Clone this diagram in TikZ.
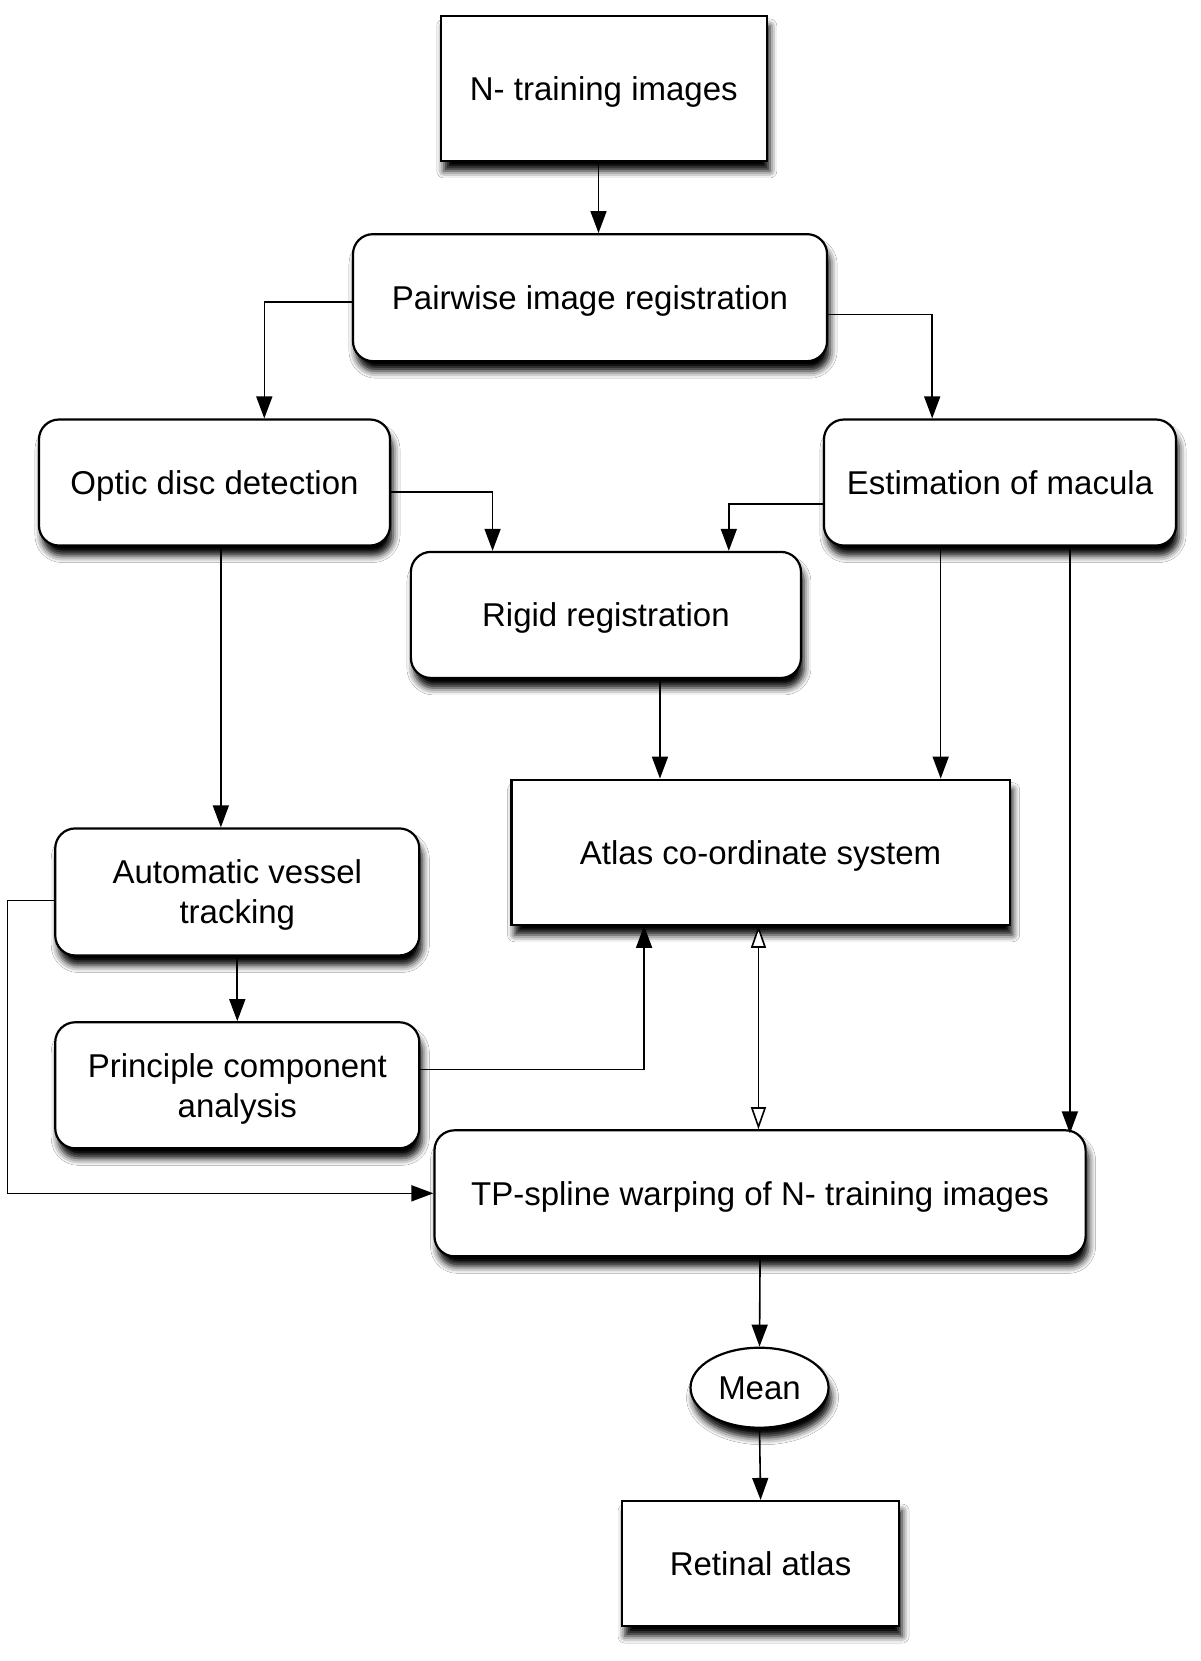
\documentclass[tikz,border=0pt]{standalone}
\usepackage{fontspec}
\setmainfont{Liberation Sans}
\usetikzlibrary{arrows.meta,calc,shapes.geometric,shadows.blur}
\begin{document}
\begin{tikzpicture}[x=1.0591pt,y=-1.0591pt,
  base/.style={draw=black,line width=2.2pt,fill=white,inner sep=0pt,align=center,
    text depth=0pt,
    font=\fontsize{33}{40}\selectfont,
    blur shadow={shadow xshift=3pt,shadow yshift=-10pt,shadow blur radius=7pt,shadow opacity=100}},
  sq/.style={base,rectangle},
  rnd/.style={base,rectangle,rounded corners=20pt},
  ell/.style={base,ellipse},
  arr/.style={line width=1.6pt,-{Triangle[length=22pt,width=16pt]}},
  darr/.style={line width=1.6pt,{Triangle[open,length=22pt,width=15pt,fill=white]}-{Triangle[open,length=22pt,width=15pt,fill=white]}}
]
\useasboundingbox[fill=white] (0,0) rectangle (1133,1568);

\node[sq,minimum width=326pt,minimum height=145pt] (N) at (570,83.5) {N- training images};
\node[rnd,minimum width=474pt,minimum height=127pt] (pw) at (557,281) {Pairwise image registration};
\node[rnd,minimum width=351pt,minimum height=126pt] (od) at (202.5,455.5) {Optic disc detection};
\node[rnd,minimum width=352pt,minimum height=126pt] (em) at (944,455.5) {Estimation of macula};
\node[rnd,minimum width=390pt,minimum height=126pt] (rr) at (572,580.5) {Rigid registration};
\node[sq,minimum width=498pt,minimum height=145pt] (at) at (718,804.5) {Atlas co-ordinate system};
\node[rnd,minimum width=364pt,minimum height=127pt] (avt) at (224,842) {Automatic vessel\\tracking};
\node[rnd,minimum width=364pt,minimum height=126pt] (pca) at (224,1024.5) {Principle component\\analysis};
\node[rnd,minimum width=651pt,minimum height=126pt] (tp) at (717.5,1126.5) {TP-spline warping of N- training images};
\node[ell,minimum width=138pt,minimum height=80pt] (mean) at (717,1310) {Mean};
\node[sq,minimum width=277pt,minimum height=125pt] (ra) at (718,1476) {Retinal atlas};

% helper points
\coordinate (c1) at ($(N.south)+(-5,0)$);
\coordinate (c6) at ($(od.south)+(6,0)$);
\coordinate (c7) at ($(rr.south)+(51,0)$);
\coordinate (c8) at ($(em.south)+(-56,0)$);
\coordinate (c9) at ($(em.south)+(66,0)$);
\coordinate (c13) at ($(at.south)+(-2,0)$);

\draw[arr] (c1) -- (c1 |- pw.north);
\draw[arr] ($(pw.west)+(0,4)$) -| ($(od.north)+(47,0)$);
\draw[arr] ($(pw.east)+(0,16)$) -| ($(em.north)+(-64,0)$);
\draw[arr] ($(od.east)+(0,9)$) -| ($(rr.north)+(-107,0)$);
\draw[arr] ($(em.west)+(0,20)$) -| ($(rr.north)+(116,0)$);
\draw[arr] (c6) -- (c6 |- avt.north);
\draw[arr] (c7) -- (c7 |- at.north);
\draw[arr] (c8) -- (c8 |- at.north);
\draw[arr] (c9) -- ($(c9 |- tp.north)+(0,4)$);
\draw[arr] ($(avt.west)+(0,8)$) -- ++(-44,0) |- (tp.west);
\draw[arr] (avt.south) -- (pca.north);
\draw[arr] ($(pca.east)+(0,-15)$) -| ($(at.south)+(-110,0)$);
\draw[darr] (c13) -- (c13 |- tp.north);
\draw[arr] (tp.south) -- (mean.north);
\draw[arr] (mean.south) -- (ra.north);
\end{tikzpicture}
\end{document}
